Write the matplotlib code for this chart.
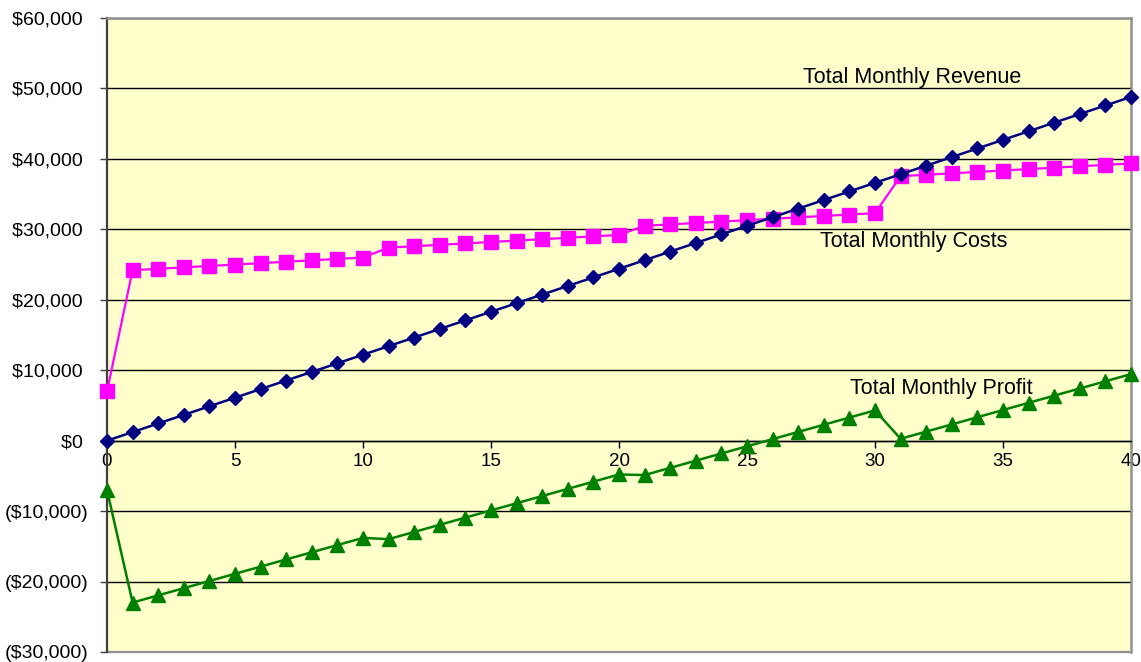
import numpy as np
import matplotlib.pyplot as plt
from matplotlib.ticker import FuncFormatter, MultipleLocator

plt.rcParams['font.family'] = ['Liberation Sans', 'DejaVu Sans']

months = list(range(41))
revenue = [0, 1220, 2440, 3660, 4880, 6100, 7320, 8540, 9760, 10980,
           12200, 13420, 14640, 15860, 17080, 18300, 19520, 20740, 21960, 23180,
           24400, 25620, 26840, 28060, 29280, 30500, 31720, 32940, 34160, 35380,
           36600, 37820, 39040, 40260, 41480, 42700, 43920, 45140, 46360, 47580,
           48800]
costs = [7000, 24200, 24400, 24600, 24800, 25000, 25200, 25400, 25600, 25800,
         26000, 27400, 27600, 27800, 28000, 28200, 28400, 28600, 28800, 29000,
         29200, 30500, 30700, 30900, 31100, 31300, 31500, 31700, 31900, 32100,
         32300, 37550, 37750, 37950, 38150, 38350, 38550, 38750, 38950, 39150,
         39350]
profit = [-7000, -22980, -21960, -20940, -19920, -18900, -17880, -16860, -15840, -14820,
          -13800, -13980, -12960, -11940, -10920, -9900, -8880, -7860, -6840, -5820,
          -4800, -4880, -3860, -2840, -1820, -800, 220, 1240, 2260, 3280,
          4300, 270, 1290, 2310, 3330, 4350, 5370, 6390, 7410, 8430,
          9450]


def money(v, pos):
    # accounting style: negatives in brackets, positives padded for the bracket
    if v < 0:
        return '(${:,.0f})'.format(-v)
    return '${:,.0f} '.format(v)


fig = plt.figure(figsize=(11.41, 6.62), dpi=100)
ax = fig.add_axes([107 / 1141, 1 - 652 / 662, (1131 - 107) / 1141, (652 - 18) / 662])
ax.set_facecolor('#FFFFCC')

ax.plot(months, costs, color='#FF00FF', lw=1.6, marker='s', ms=9.5,
        mec='#FF00FF', clip_on=False, zorder=3)
ax.plot(months, revenue, color='#000080', lw=1.8, marker='D', ms=6.8,
        mec='#000080', clip_on=False, zorder=4)
ax.plot(months, profit, color='#008000', lw=1.8, marker='^', ms=9.5,
        mec='#008000', clip_on=False, zorder=3)

ax.text(31.45, 51600, 'Total Monthly Revenue', fontsize=15.5, ha='center', va='center')
ax.text(31.5, 28300, 'Total Monthly Costs', fontsize=15.5, ha='center', va='center')
ax.text(32.6, 7400, 'Total Monthly Profit', fontsize=15.5, ha='center', va='center')

ax.set_xlim(0, 40)
ax.set_ylim(-30000, 60000)
ax.xaxis.set_major_locator(MultipleLocator(5))
ax.yaxis.set_major_locator(MultipleLocator(10000))
ax.yaxis.set_major_formatter(FuncFormatter(money))

ax.grid(axis='y', color='black', lw=1.0)
ax.set_axisbelow(True)

# x axis runs along the zero line, the frame stays grey
ax.spines['bottom'].set_position(('data', 0))
ax.spines['bottom'].set_color('black')
ax.spines['bottom'].set_linewidth(1.0)
ax.spines['left'].set_color('#404040')
ax.spines['left'].set_linewidth(1.6)
for side in ['top', 'right']:
    ax.spines[side].set_color('#909090')
    ax.spines[side].set_linewidth(1.8)
ax.axhline(-30000, color='#909090', lw=1.6, clip_on=False, zorder=1)

ax.tick_params(axis='x', direction='out', length=5, width=1, labelsize=13.5, pad=4)
ax.tick_params(axis='y', direction='out', length=5, width=1, labelsize=14, pad=8.5,
               color='#404040')

fig.savefig('out.png', dpi=100, facecolor='white')
